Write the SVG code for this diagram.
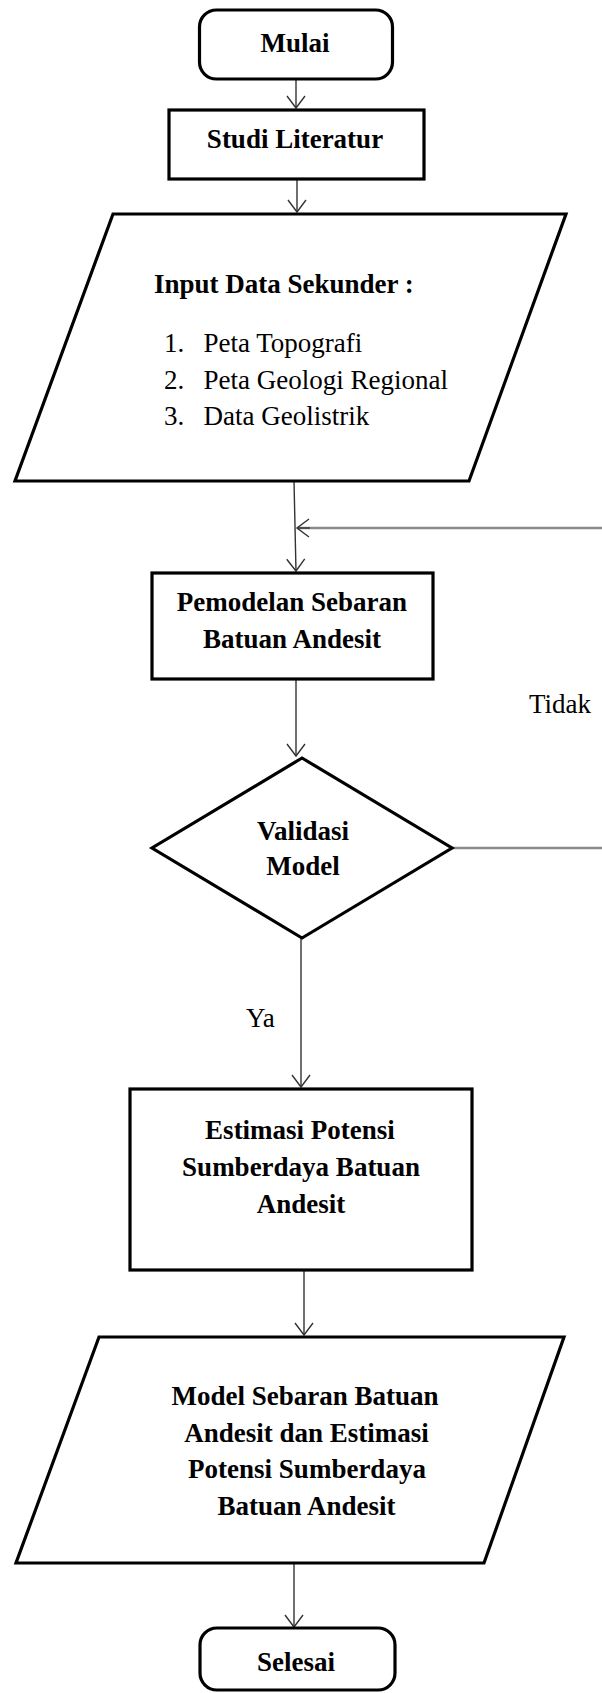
<svg xmlns="http://www.w3.org/2000/svg" width="602" height="1693" viewBox="0 0 602 1693">
<style>
.box{fill:#fff;stroke:#000;stroke-width:3.2;stroke-linejoin:miter}
.t{font-family:"Liberation Serif","Times New Roman",serif;font-size:27px;fill:#000}
.b{font-weight:bold}
.c{text-anchor:middle}
.con{fill:none;stroke:#333;stroke-width:1.4}
.loop{fill:none;stroke:#8a8a8a;stroke-width:2.4}
</style>
<defs>
<marker id="ah" markerUnits="userSpaceOnUse" markerWidth="26" markerHeight="26" refX="13" refY="13" orient="auto" overflow="visible">
<path d="M1 4 L13 13 L1 22" fill="none" stroke="#333" stroke-width="1.4"/>
</marker>
</defs>
<rect width="602" height="1693" fill="#fff"/>
<g id="connectors">
<line class="con" x1="296" y1="79" x2="296" y2="108" marker-end="url(#ah)"/>
<line class="con" x1="297" y1="179" x2="297" y2="212" marker-end="url(#ah)"/>
<line class="con" x1="294" y1="481" x2="296" y2="571" marker-end="url(#ah)"/>
<line class="loop" x1="602" y1="528" x2="297" y2="528"/>
<line class="con" x1="310" y1="528" x2="297" y2="528" marker-end="url(#ah)"/>
<line class="con" x1="296" y1="679" x2="296" y2="756" marker-end="url(#ah)"/>
<line class="loop" x1="452" y1="848" x2="602" y2="848"/>
<line class="con" x1="301" y1="938" x2="301" y2="1087" marker-end="url(#ah)"/>
<line class="con" x1="304" y1="1270" x2="304" y2="1335" marker-end="url(#ah)"/>
<line class="con" x1="294" y1="1563" x2="294" y2="1627" marker-end="url(#ah)"/>
</g>
<g id="mulai">
<rect class="box" x="199.5" y="10" width="193" height="69" rx="17" ry="17"/>
<text class="t b c" x="295" y="52">Mulai</text>
</g>
<g id="studi">
<rect class="box" x="169" y="110" width="255" height="69"/>
<text class="t b c" x="295" y="148">Studi Literatur</text>
</g>
<g id="input">
<polygon class="box" points="113,214 566,214 469,481 15,481"/>
<text class="t b" x="154" y="293">Input Data Sekunder :</text>
<text class="t" x="164" y="352">1.</text>
<text class="t" x="203.5" y="352">Peta Topografi</text>
<text class="t" x="164" y="388.5">2.</text>
<text class="t" x="203.5" y="388.5">Peta Geologi Regional</text>
<text class="t" x="164" y="425">3.</text>
<text class="t" x="203.5" y="425">Data Geolistrik</text>
</g>
<g id="pemodelan">
<rect class="box" x="152" y="573" width="281" height="106"/>
<text class="t b c" x="292" y="611">Pemodelan Sebaran</text>
<text class="t b c" x="292" y="648">Batuan Andesit</text>
</g>
<g id="tidak-label">
<text class="t" x="529" y="713">Tidak</text>
</g>
<g id="validasi">
<polygon class="box" points="302,758 452,848 302,938 152,848"/>
<text class="t b c" x="303" y="840">Validasi</text>
<text class="t b c" x="303" y="875">Model</text>
</g>
<g id="ya-label">
<text class="t" x="246" y="1027">Ya</text>
</g>
<g id="estimasi">
<rect class="box" x="130" y="1089" width="342" height="181"/>
<text class="t b c" x="300" y="1139">Estimasi Potensi</text>
<text class="t b c" x="301" y="1176">Sumberdaya Batuan</text>
<text class="t b c" x="301" y="1213">Andesit</text>
</g>
<g id="output">
<polygon class="box" points="99,1337 564,1337 484,1563 16,1563"/>
<text class="t b c" x="305" y="1405">Model Sebaran Batuan</text>
<text class="t b c" x="306.5" y="1442">Andesit dan Estimasi</text>
<text class="t b c" x="307" y="1478">Potensi Sumberdaya</text>
<text class="t b c" x="306.5" y="1515">Batuan Andesit</text>
</g>
<g id="selesai">
<rect class="box" x="200" y="1628" width="195" height="62" rx="17" ry="17"/>
<text class="t b c" x="296" y="1671">Selesai</text>
</g>
</svg>
